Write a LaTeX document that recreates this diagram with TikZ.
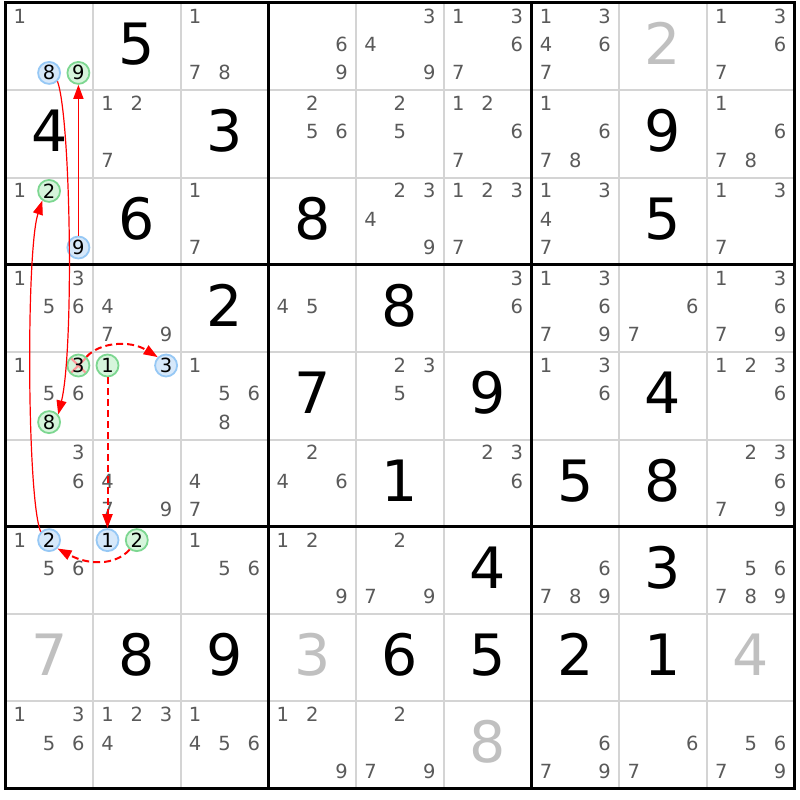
\documentclass[tikz,border=0pt]{standalone}
\usepackage{fontspec}
\setmainfont{DejaVu Sans}
\usetikzlibrary{arrows.meta}
\definecolor{candgray}{RGB}{90,90,90}
\definecolor{solvedgray}{RGB}{192,192,192}
\definecolor{gridgray}{RGB}{212,212,212}
\definecolor{ringblue}{RGB}{150,200,245}
\definecolor{fillblue}{RGB}{214,232,250}
\definecolor{ringgreen}{RGB}{125,215,145}
\definecolor{fillgreen}{RGB}{214,245,220}
\begin{document}
\begin{tikzpicture}[x=1pt,y=-1pt,
    given/.style={anchor=base,inner sep=0pt,font=\fontsize{57}{60}\selectfont},
    solved/.style={given,text=solvedgray},
    cand/.style={anchor=base,inner sep=0pt,text=candgray,font=\fontsize{19.5}{21}\selectfont},
    onering/.style={circle,inner sep=0pt,minimum size=22pt,line width=1.8pt,font=\fontsize{19.5}{21}\selectfont},
    bluering/.style={onering,draw=ringblue,fill=fillblue},
    greenring/.style={onering,draw=ringgreen,fill=fillgreen},
    struck/.style={path picture={
        \draw[red!40,line width=2.2pt] (path picture bounding box.north west) -- (path picture bounding box.south east)
            (path picture bounding box.north east) -- (path picture bounding box.south west);}},
    link/.style={red,line width=1.2pt,-{Triangle[length=14pt,width=10pt]}},
    weaklink/.style={link,line width=2pt,dash pattern=on 7pt off 4pt}]
    \fill[white] (0,0) rectangle (800,800);
    \foreach \i in {1,2,4,5,7,8} {
        \draw[gridgray,line width=2pt] (5.3+87.7*\i,3) -- (5.3+87.7*\i,788.7);
        \draw[gridgray,line width=2pt] (5.3,3+87.3*\i) -- (794.6,3+87.3*\i);
    }
    \foreach \i in {3,6} {
        \draw[line width=3pt] (5.3+87.7*\i,3) -- (5.3+87.7*\i,788.7);
        \draw[line width=3pt] (5.3,3+87.3*\i) -- (794.6,3+87.3*\i);
    }
    \draw[line width=3pt] (5.3,3) rectangle (794.6,788.7);
    \foreach \r/\c/\v in {0/1/5, 1/0/4, 1/2/3, 1/7/9, 2/1/6, 2/3/8, 2/7/5, 3/2/2,
        3/4/8, 4/3/7, 4/5/9, 4/7/4, 5/4/1, 5/6/5, 5/7/8, 6/5/4, 6/7/3, 7/1/8,
        7/2/9, 7/4/6, 7/5/5, 7/6/2, 7/7/1}
        \node[given] (g\r\c) at (49.15+87.7*\c,64.5+87.3*\r) {\v};
    \foreach \r/\c/\v in {0/7/2, 7/0/7, 7/3/3, 7/8/4, 8/5/8}
        \node[solved] (s\r\c) at (49.15+87.7*\c,64.5+87.3*\r) {\v};
    \foreach \r/\c/\ds in {0/0/{1}, 0/2/{1,7,8}, 0/3/{6,9}, 0/4/{3,4,9}, 0/5/{1,3,6,7},
        0/6/{1,3,4,6,7}, 0/8/{1,3,6,7}, 1/1/{1,2,7}, 1/3/{2,5,6}, 1/4/{2,5},
        1/5/{1,2,6,7}, 1/6/{1,6,7,8}, 1/8/{1,6,7,8}, 2/0/{1}, 2/2/{1,7},
        2/4/{2,3,4,9}, 2/5/{1,2,3,7}, 2/6/{1,3,4,7}, 2/8/{1,3,7}, 3/0/{1,3,5,6},
        3/1/{4,7,9}, 3/3/{4,5}, 3/5/{3,6}, 3/6/{1,3,6,7,9}, 3/7/{6,7},
        3/8/{1,3,6,7,9}, 4/0/{1,5,6}, 4/2/{1,5,6,8}, 4/4/{2,3,5}, 4/6/{1,3,6},
        4/8/{1,2,3,6}, 5/0/{3,6}, 5/1/{4,7,9}, 5/2/{4,7}, 5/3/{2,4,6}, 5/5/{2,3,6},
        5/8/{2,3,6,7,9}, 6/0/{1,5,6}, 6/2/{1,5,6}, 6/3/{1,2,9}, 6/4/{2,7,9},
        6/6/{6,7,8,9}, 6/8/{5,6,7,8,9}, 8/0/{1,3,5,6}, 8/1/{1,2,3,4}, 8/2/{1,4,5,6},
        8/3/{1,2,9}, 8/4/{2,7,9}, 8/6/{6,7,9}, 8/7/{6,7}, 8/8/{5,6,7,9}}
        \foreach \d in \ds {
            \pgfmathsetmacro\px{19.8+87.7*\c+29.3*mod(\d-1,3)}
            \pgfmathsetmacro\py{23.3+87.3*\r+28.3*floor((\d-1)/3)}
            \node[cand] (k\r\c\d) at (\px,\py) {\d};
        }
    \node[bluering] (r1c1-8) at (49.1,72.9) {8};
    \node[greenring] (r1c1-9) at (78.4,72.9) {9};
    \node[greenring] (r3c1-2) at (49.1,190.9) {2};
    \node[bluering] (r3c1-9) at (78.4,247.5) {9};
    \node[greenring,struck] (r5c1-3) at (78.4,365.5) {3};
    \node[greenring] (r5c1-8) at (49.1,422.1) {8};
    \node[greenring] (r5c2-1) at (107.5,365.5) {1};
    \node[bluering] (r5c2-3) at (166.1,365.5) {3};
    \node[bluering] (r7c1-2) at (49.1,540.1) {2};
    \node[bluering] (r7c2-1) at (107.5,540.1) {1};
    \node[greenring] (r7c2-2) at (136.8,540.1) {2};
    \draw[link,line width=1.5pt] (r3c1-9) -- (r1c1-9);
    \draw[link] (r1c1-8.-45) .. controls (71,120) and (74,350) .. (r5c1-8.40);
    \draw[link] (r7c1-2.135) .. controls (27,500) and (26,250) .. (r3c1-2.-125);
    \draw[weaklink] (r5c1-3.47) .. controls (100,342) and (130,340) .. (r5c2-3.135);
    \draw[weaklink] (r5c2-1) -- (r7c2-1);
    \draw[weaklink] (r7c2-2.-127) .. controls (115,566) and (88,565) .. (r7c1-2.-45);
\end{tikzpicture}
\end{document}
